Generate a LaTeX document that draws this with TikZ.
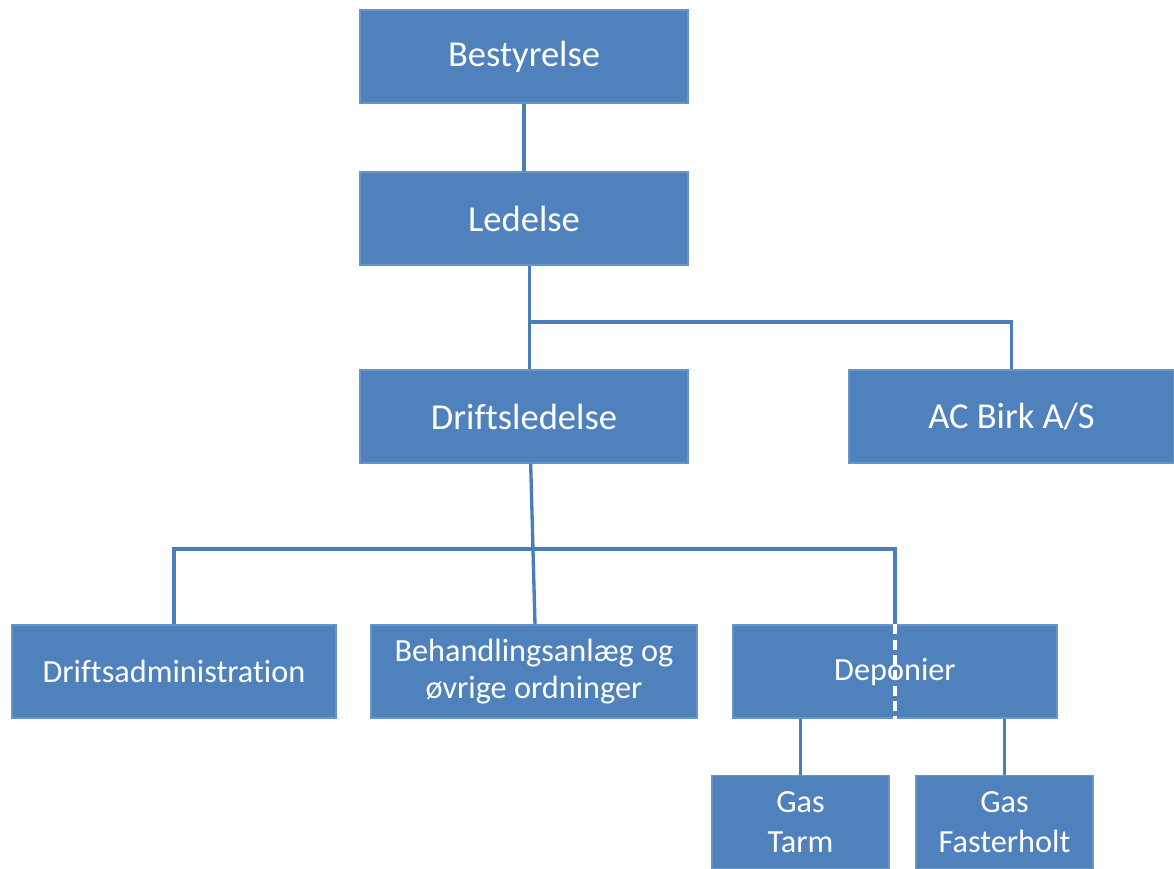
\documentclass[tikz,border=0pt]{standalone}
\usepackage{fontspec}
\setmainfont[Ligatures=NoCommon]{Carlito}
\definecolor{boxblue}{HTML}{4F81BD}
\definecolor{lineblue}{HTML}{4A7EBB}
\begin{document}
\begin{tikzpicture}[x=0.75pt,y=-0.75pt,
  orgbox/.style={draw=boxblue!85!white, line width=0.8pt, fill=boxblue, text=white, inner sep=2pt, align=center, anchor=center, minimum height=69.75pt},
  bigtext/.style={font=\fontsize{27.4}{33}\selectfont},
  smalltext/.style={font=\fontsize{24.2}{29}\selectfont},
  conn/.style={draw=lineblue, line width=2.5pt},
  dashwhite/.style={draw=white, line width=2.5pt, dash pattern=on 7.5pt off 4pt}]
\useasboundingbox (0,0) rectangle (1174,868);
\coordinate (h1) at (0,322);
\coordinate (h2) at (0,549);
% boxes
\node[orgbox, bigtext, minimum width=246pt] (best) at (524,56.5) {Bestyrelse};
\node[orgbox, bigtext, minimum width=246pt] (led) at (524,218.5) {Ledelse};
\node[orgbox, bigtext, minimum width=246pt] (drl) at (524,416.5) {Driftsledelse};
\node[orgbox, bigtext, minimum width=243.75pt] (ac) at (1011.5,416.5) {AC Birk A/S};
\node[orgbox, smalltext, minimum width=243pt] (da) at (174,671.5) {Driftsadministration};
\node[orgbox, smalltext, minimum width=244.5pt] (beh) at (534,671.5) {Behandlingsanlæg og\\[-1pt]øvrige ordninger};
\node[orgbox, smalltext, minimum width=243pt] (dep) at (895,671.5) {Deponier};
\node[orgbox, smalltext, minimum width=132.75pt, text depth=0pt] (gt) at (800.5,822) {Gas\\[1pt]Tarm};
\node[orgbox, smalltext, minimum width=132.75pt, text depth=0pt] (gf) at (1004.5,822) {Gas\\[1pt]Fasterholt};
% connectors
\draw[conn] (best.south) -- (led.north);
\draw[conn] ([xshift=4pt]led.south) -- ([xshift=4pt]drl.north);
\draw[conn] ([xshift=4pt]led.south |- h1) -| (ac.north);
\draw[conn] ([xshift=5pt]drl.south) -- ([xshift=0.75pt]beh.north);
\draw[conn] (da.north) |- (dep.north |- h2) -- (dep.north);
\draw[dashwhite] (dep.north) -- (dep.south);
\draw[conn] (gt.north) -- (gt.north |- dep.south);
\draw[conn] (gf.north) -- (gf.north |- dep.south);
\end{tikzpicture}
\end{document}
